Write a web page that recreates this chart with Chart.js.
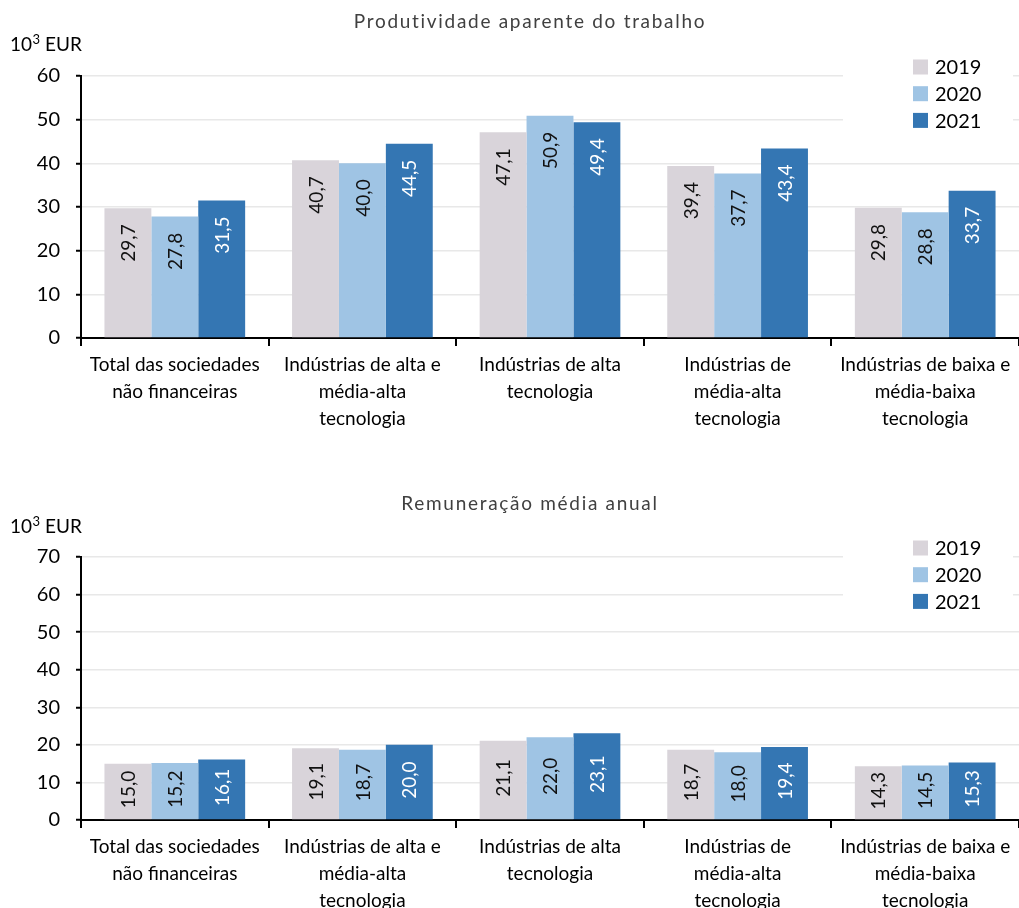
<!DOCTYPE html>
<html><head><meta charset="utf-8">
<script src="https://cdn.jsdelivr.net/npm/chart.js@4/dist/chart.umd.min.js"></script>
<style>
html,body{margin:0;padding:0;background:#fff;width:1019px;height:908px;overflow:hidden}
canvas{position:absolute;left:0}
</style></head><body>
<canvas id="c1" width="1019" height="470" style="top:0"></canvas>
<canvas id="c2" width="1019" height="438" style="top:470px"></canvas>
<script>
// ---- data ----
const categories = [
  ["Total das sociedades", "não financeiras"],
  ["Indústrias de alta e", "média-alta", "tecnologia"],
  ["Indústrias de alta", "tecnologia"],
  ["Indústrias de", "média-alta", "tecnologia"],
  ["Indústrias de baixa e", "média-baixa", "tecnologia"]
];
const years = ["2019", "2020", "2021"];
const prod2019 = [29.7, 40.7, 47.1, 39.4, 29.8];
const prod2020 = [27.8, 40.0, 50.9, 37.7, 28.8];
const prod2021 = [31.5, 44.5, 49.4, 43.4, 33.7];
const rem2019 = [15.0, 19.1, 21.1, 18.7, 14.3];
const rem2020 = [15.2, 18.7, 22.0, 18.0, 14.5];
const rem2021 = [16.1, 20.0, 23.1, 19.4, 15.3];
const prodTicksMax = 60;
const remTicksMax = 70;
const titleProd = "Produtividade aparente do trabalho";
const titleRem = "Remuneração média anual";
const unitBase = "10";
const unitExp = "3";
const unitName = " EUR";

// ---- styles ----
const FONT = 'Lato, "Open Sans", sans-serif';
const colors = ["#d9d4da", "#9fc4e4", "#3476b3"];
const labelColors = ["#111", "#111", "#fff"];

function overlay(opts) {
  return {
    id: 'overlay',
    beforeDatasetsDraw(chart) {
      const ctx = chart.ctx;
      ctx.save();
      ctx.fillStyle = '#fff';
      ctx.fillRect(843, opts.legendY - 16, 170, 86);
      ctx.restore();
    },
    afterDatasetsDraw(chart) {
      const ctx = chart.ctx;
      // data labels
      chart.data.datasets.forEach((ds, i) => {
        const meta = chart.getDatasetMeta(i);
        meta.data.forEach((el, j) => {
          const txt = ds.data[j].toFixed(1).replace('.', ',');
          ctx.save();
          ctx.fillStyle = labelColors[i];
          ctx.font = '19px ' + FONT;
          ctx.textBaseline = 'middle';
          if (opts.mode === 'end') {
            ctx.translate(el.x + 1, el.y + 16);
            ctx.rotate(-Math.PI / 2);
            ctx.textAlign = 'right';
          } else {
            ctx.translate(el.x + 1, (el.y + el.base) / 2 - 2);
            ctx.rotate(-Math.PI / 2);
            ctx.textAlign = 'center';
          }
          ctx.fillText(txt, 0, 0);
          ctx.restore();
        });
      });
      // legend
      ctx.save();
      ctx.font = '20px ' + FONT;
      ctx.textBaseline = 'middle';
      ctx.textAlign = 'left';
      chart.data.datasets.forEach((ds, i) => {
        const y = opts.legendY + i * 26.7;
        ctx.fillStyle = colors[i];
        ctx.fillRect(913, y - 7.5, 15, 15);
        ctx.fillStyle = '#000';
        ctx.fillText(ds.label, 935, y + 1);
      });
      // title
      ctx.fillStyle = '#404040';
      ctx.font = '19px ' + FONT;
      ctx.textAlign = 'center';
      ctx.letterSpacing = '1.7px';
      ctx.fillText(opts.title, 530, opts.titleY);
      ctx.letterSpacing = '0px';
      // unit "10^3 EUR"
      ctx.fillStyle = '#000';
      ctx.textAlign = 'left';
      ctx.textBaseline = 'alphabetic';
      const base = opts.unitY + 7;
      ctx.font = '19px ' + FONT;
      ctx.fillText(unitBase, 10, base);
      let x = 10 + ctx.measureText(unitBase).width + 0.5;
      ctx.font = '13px ' + FONT;
      ctx.fillText(unitExp, x, base - 7);
      x += ctx.measureText(unitExp).width;
      ctx.font = '19px ' + FONT;
      ctx.fillText(unitName, x, base);
      ctx.restore();
    }
  };
}

function makeChart(id, d1, d2, d3, yMax, xAxisH, padTop, opts) {
  const ds = [d1, d2, d3].map((d, i) => ({
    label: years[i], data: d, backgroundColor: colors[i],
    borderWidth: 0, categoryPercentage: 0.75, barPercentage: 1.0
  }));
  return new Chart(document.getElementById(id), {
    type: 'bar',
    data: { labels: categories, datasets: ds },
    options: {
      responsive: false, animation: false,
      layout: { padding: { top: padTop, left: 0, right: 0, bottom: 0 } },
      plugins: { legend: { display: false }, tooltip: { enabled: false }, title: { display: false } },
      scales: {
        x: {
          offset: true,
          grid: { offset: true, drawOnChartArea: false, drawTicks: true, tickLength: 8, color: '#000', lineWidth: 2 },
          border: { display: true, color: '#000', width: 2 },
          ticks: { autoSkip: false, maxRotation: 0, minRotation: 0, padding: 6, color: '#000',
                   font: { family: FONT, size: 19, lineHeight: 1.4 } },
          afterFit(s) { s.height = xAxisH; s.paddingLeft = 0; s.paddingRight = 0; }
        },
        y: {
          min: 0, max: yMax,
          ticks: { stepSize: 10, padding: 16, color: '#000', font: { family: FONT, size: 20 } },
          grid: { color: '#e8e8e8', lineWidth: 1.5, tickColor: '#000', tickLength: 5, tickWidth: 2 },
          border: { display: true, color: '#000', width: 2 },
          afterFit(s) { s.width = 81; s.paddingTop = 0; s.paddingBottom = 0; }
        }
      }
    },
    plugins: [overlay(opts)]
  });
}

makeChart('c1', prod2019, prod2020, prod2021, prodTicksMax, 470 - 338, 76,
  { mode: 'end', legendY: 67, titleY: 22, unitY: 44, title: titleProd });
makeChart('c2', rem2019, rem2020, rem2021, remTicksMax, 88, 87,
  { mode: 'center', legendY: 548 - 470, titleY: 504 - 470, unitY: 526 - 470, title: titleRem });
</script>
</body></html>
